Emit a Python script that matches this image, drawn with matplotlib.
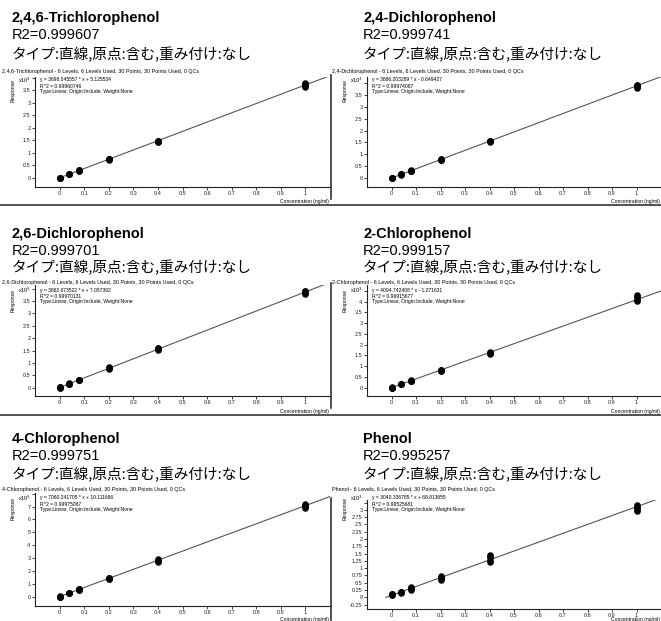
import matplotlib
matplotlib.use("Agg")
import matplotlib.pyplot as plt
import numpy as np

W, H = 661, 621

# ---------------- data ----------------
compounds = ["2,4,6-Trichlorophenol", "2,4-Dichlorophenol", "2,6-Dichlorophenol",
             "2-Chlorophenol", "4-Chlorophenol", "Phenol"]
r2_short = ["0.999607", "0.999741", "0.999701", "0.999157", "0.999751", "0.995257"]
r2_long = ["0.99960746", "0.99974087", "0.99970131", "0.99915677", "0.99975087", "0.99525681"]
slopes = [3698.045557, 3886.203289, 3862.673522, 4094.742408, 7060.241705, 3040.336785]
intercepts = [5.125534, -0.649427, 7.057392, -1.271631, 10.111666, 68.813655]

levels = [0.0, 0.04, 0.08, 0.2, 0.4, 1.0]

# responses (x10^3), 5 replicates per level
resp_246tcp = [[0.00, 0.01, 0.00, 0.01, 0.005],
               [0.14, 0.15, 0.15, 0.16, 0.15],
               [0.29, 0.30, 0.31, 0.30, 0.29],
               [0.73, 0.75, 0.76, 0.74, 0.77],
               [1.44, 1.46, 1.47, 1.45, 1.48],
               [3.62, 3.66, 3.70, 3.74, 3.78]]
resp_24dcp = [[0.00, 0.01, 0.00, 0.005, 0.00],
              [0.14, 0.15, 0.16, 0.15, 0.15],
              [0.29, 0.30, 0.31, 0.30, 0.32],
              [0.76, 0.78, 0.79, 0.80, 0.77],
              [1.52, 1.55, 1.57, 1.58, 1.54],
              [3.80, 3.84, 3.88, 3.91, 3.93]]
resp_26dcp = [[0.00, 0.01, 0.01, 0.00, 0.005],
              [0.15, 0.16, 0.16, 0.17, 0.15],
              [0.30, 0.31, 0.32, 0.31, 0.30],
              [0.76, 0.78, 0.80, 0.82, 0.79],
              [1.53, 1.56, 1.59, 1.62, 1.57],
              [3.78, 3.82, 3.86, 3.89, 3.92]]
resp_2cp = [[0.00, 0.00, 0.01, 0.00, 0.005],
            [0.15, 0.16, 0.17, 0.16, 0.16],
            [0.30, 0.32, 0.34, 0.33, 0.31],
            [0.77, 0.80, 0.82, 0.84, 0.79],
            [1.57, 1.60, 1.62, 1.65, 1.59],
            [4.02, 4.07, 4.18, 4.26, 4.30]]
resp_4cp = [[0.00, 0.02, 0.01, 0.00, 0.01],
            [0.27, 0.28, 0.29, 0.28, 0.30],
            [0.55, 0.57, 0.58, 0.56, 0.59],
            [1.38, 1.41, 1.44, 1.46, 1.42],
            [2.72, 2.78, 2.84, 2.90, 2.80],
            [6.90, 6.98, 7.05, 7.12, 7.18]]
resp_phenol = [[0.08, 0.10, 0.11, 0.12, 0.09],
               [0.16, 0.18, 0.19, 0.20, 0.17],
               [0.26, 0.29, 0.31, 0.33, 0.35],
               [0.60, 0.63, 0.66, 0.70, 0.73],
               [1.20, 1.25, 1.35, 1.42, 1.46],
               [2.95, 3.00, 3.06, 3.11, 3.16]]
responses = [resp_246tcp, resp_24dcp, resp_26dcp, resp_2cp, resp_4cp, resp_phenol]

ytick_sets = [np.arange(0, 4.01, 0.5), np.arange(0, 4.01, 0.5), np.arange(0, 4.01, 0.5),
              np.arange(0, 4.51, 0.5), np.arange(0, 8.01, 1.0), np.arange(-0.25, 3.26, 0.25)]
ylims = [(-0.36, 4.02), (-0.38, 4.26), (-0.34, 4.15), (-0.39, 4.78), (-0.72, 8.05), (-0.40, 3.34)]
xticks = [0, 0.1, 0.2, 0.3, 0.4, 0.5, 0.6, 0.7, 0.8, 0.9, 1]
xtick_labels = ["0", "0.1", "0.2", "0.3", "0.4", "0.5", "0.6", "0.7", "0.8", "0.9", "1"]

# ---------------- layout (pixels) ----------------
axes_px = [(35, 77, 330, 187), (367, 77, 661, 187),
           (35, 285, 330, 396), (367, 285, 661, 396),
           (35, 493, 330, 606), (367, 500, 661, 609)]
col_text_x = [12, 363]
col_head_x = [2, 332]
title_y = [18, 234, 439]
r2_y = [35, 251, 456]
type_y = [55, 268, 475]
head_y = [72, 282.5, 490]
eq_y = [80, 290, 498]
conc_y = [201, 411, 620]

fig = plt.figure(figsize=(W / 100, H / 100), dpi=100)

def fx(x):
    return x / W

def fy(y):
    return 1 - y / H

CJK = ['Noto Sans CJK JP', 'DejaVu Sans']
SANS = ['Liberation Sans', 'DejaVu Sans']

def fmt_tick(v):
    s = ("%.2f" % v).rstrip("0").rstrip(".")
    if s == "-0":
        s = "0"
    return s

for i in range(6):
    r, c = divmod(i, 2)
    x0, yt, x1, yb = axes_px[i]
    ax = fig.add_axes([fx(x0), fy(yb), (x1 - x0) / W, (yb - yt) / H])
    ax.set_facecolor("none")
    for s in ["top", "right"]:
        ax.spines[s].set_visible(False)
    for s in ["left", "bottom"]:
        ax.spines[s].set_linewidth(0.8)
        ax.spines[s].set_color("#222222")

    m = slopes[i] / 1000.0
    b = intercepts[i] / 1000.0
    xs = min(0.0, -b / m) if b > 0 else 0.0
    xl = np.array([xs, 1.1])
    ax.plot(xl, m * xl + b, color="#555555", lw=0.8, zorder=2, clip_on=True)

    for lv, vals in zip(levels, responses[i]):
        ax.scatter([lv] * len(vals), vals, s=22, color="black", zorder=3, linewidths=0)

    ax.set_xlim(-0.1, 1.1)
    ax.set_ylim(*ylims[i])
    yt_vals = ytick_sets[i]
    ax.set_yticks(yt_vals)
    labels = [fmt_tick(v) for v in yt_vals]
    labels[-1] = ""
    ax.set_yticklabels(labels)
    ax.set_xticks(xticks)
    ax.set_xticklabels(xtick_labels)
    ax.tick_params(axis="both", labelsize=4, length=2, width=0.6, pad=1.2, colors="#222222")
    for lab in ax.get_xticklabels() + ax.get_yticklabels():
        lab.set_family(SANS)

    # texts
    tx = col_text_x[c]
    fig.text(fx(tx), fy(title_y[r]), compounds[i], fontsize=10.5, fontweight="bold",
             family=SANS, va="center", ha="left")
    fig.text(fx(tx), fy(r2_y[r]), "R2=" + r2_short[i], fontsize=10.5,
             family=SANS, va="center", ha="left")
    fig.text(fx(tx), fy(type_y[r]), "タイプ:直線,原点:含む,重み付け:なし", fontsize=10.5,
             family=CJK, va="center", ha="left")
    fig.text(fx(col_head_x[c]), fy(head_y[r]),
             compounds[i] + " - 6 Levels, 6 Levels Used, 30 Points, 30 Points Used, 0 QCs",
             fontsize=3.85, family=SANS, va="center", ha="left")
    sign = "+" if intercepts[i] >= 0 else "-"
    eq = "y = %.6f * x %s %.6f" % (slopes[i], sign, abs(intercepts[i]))
    ex = x0 + 5
    e0 = eq_y[r]
    fig.text(fx(x0 - 4), fy(e0 + 0.5), "x10$^3$", fontsize=4, family=SANS, va="center", ha="right")
    fig.text(fx(ex), fy(e0), eq, fontsize=3.6, family=SANS, va="center", ha="left")
    fig.text(fx(ex), fy(e0 + 6), "R^2 = " + r2_long[i], fontsize=3.6, family=SANS, va="center", ha="left")
    fig.text(fx(ex), fy(e0 + 12), "Type:Linear, Origin:Include, Weight:None", fontsize=3.6,
             family=SANS, va="center", ha="left")
    fig.text(fx(x0 - 22), fy(e0 + 11), "Response", fontsize=3.6, family=SANS,
             rotation=90, va="center", ha="center")
    fig.text(fx(x1 - 1), fy(conc_y[r]), "Concentration (ng/ml)", fontsize=3.6, family=SANS,
             va="center", ha="right")

# frame lines between rows / columns
for yline in [205, 415]:
    fig.add_artist(plt.Line2D([0, 1], [fy(yline), fy(yline)], color="#333333", lw=1.2))
for r in range(3):
    yt = axes_px[2 * r + 1][1]
    yb = axes_px[2 * r + 1][3]
    fig.add_artist(plt.Line2D([fx(331), fx(331)], [fy(yt - 2), fy(yb + 12)], color="#333333", lw=1.2))

fig.savefig("out.png", dpi=100)
